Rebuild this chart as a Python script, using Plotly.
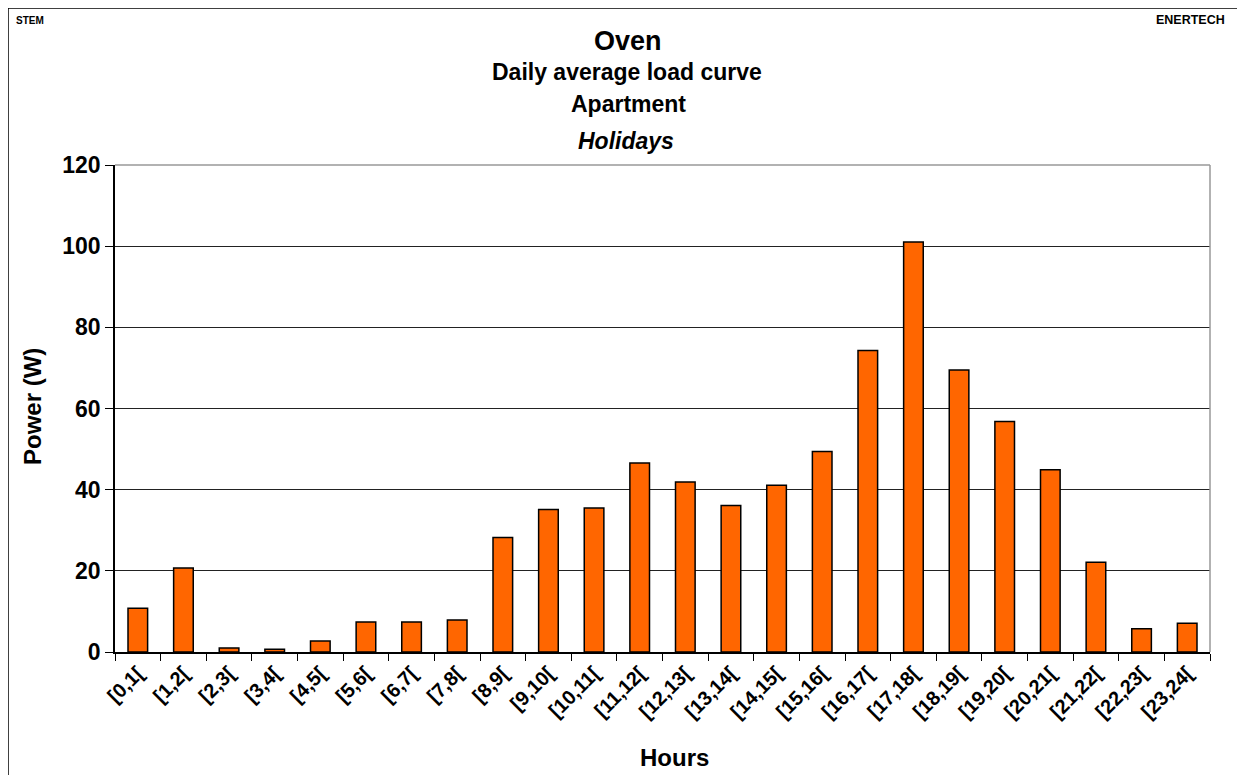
import plotly.graph_objects as go

hours = ["[0,1[", "[1,2[", "[2,3[", "[3,4[", "[4,5[", "[5,6[", "[6,7[", "[7,8[",
         "[8,9[", "[9,10[", "[10,11[", "[11,12[", "[12,13[", "[13,14[", "[14,15[",
         "[15,16[", "[16,17[", "[17,18[", "[18,19[", "[19,20[", "[20,21[", "[21,22[",
         "[22,23[", "[23,24["]
power = [10.8, 20.7, 1.0, 0.7, 2.7, 7.4, 7.4, 7.9,
         28.2, 35.1, 35.5, 46.6, 41.9, 36.1, 41.1,
         49.4, 74.3, 101.0, 69.5, 56.8, 44.9, 22.1, 5.7, 7.1]
y_ticks = [0, 20, 40, 60, 80, 100, 120]

FONT = "Liberation Sans, Arial, sans-serif"
OFF = 8  # page body margin offset
W, H = 1245, 775
L, T = 115 - OFF, 165 - OFF
R = W - (1210 - OFF)
B = H - (652 - OFF)
pw, ph = W - L - R, H - T - B


def px(x):
    return (x - OFF - L) / pw


def py(y):
    return (H - B - (y - OFF)) / ph


fig = go.Figure(go.Bar(
    x=hours, y=power,
    marker=dict(color="#FF6600", line=dict(color="#000000", width=1.5)),
))

fig.update_layout(
    width=W, height=H,
    margin=dict(l=L, r=R, t=T, b=B),
    paper_bgcolor="white", plot_bgcolor="white",
    bargap=0.57,
    showlegend=False,
    font=dict(family=FONT, color="black"),
)
fig.update_xaxes(
    type="category", tickangle=-45,
    tickfont=dict(family=FONT, size=20, color="black", weight="bold"),
    showline=True, linecolor="#000000", linewidth=1.5,
    ticks="outside", ticklen=7, tickcolor="#000000", tickson="boundaries",
    showgrid=False,
)
fig.update_yaxes(
    range=[0, 120], tickvals=y_ticks,
    tickfont=dict(family=FONT, size=23, color="black", weight="bold"),
    showline=True, linecolor="#000000", linewidth=1.5,
    ticks="outside", ticklen=8, tickcolor="#000000",
    showgrid=True, gridcolor="#222222", gridwidth=1,
    zeroline=False,
)

shapes = [
    dict(type="line", xref="paper", yref="paper", x0=0, x1=1, y0=1, y1=1,
         line=dict(color="#999999", width=1.5)),
    dict(type="line", xref="paper", yref="paper", x0=1, x1=1, y0=0, y1=1,
         line=dict(color="#999999", width=1.5)),
    dict(type="line", xref="paper", yref="paper", x0=px(8), x1=px(1270), y0=py(8), y1=py(8),
         line=dict(color="#000000", width=1.5)),
    dict(type="line", xref="paper", yref="paper", x0=px(8), x1=px(8), y0=py(8), y1=py(800),
         line=dict(color="#000000", width=1.5)),
]

annotations = [
    dict(text="<b>STEM</b>", x=px(14), y=py(20), xanchor="left", yanchor="middle",
         font=dict(size=10)),
    dict(text="<b>ENERTECH</b>", x=px(1227), y=py(20), xanchor="right", yanchor="middle",
         font=dict(size=12.5)),
    dict(text="<b>Oven</b>", x=px(628), y=py(41), xanchor="center", yanchor="middle",
         font=dict(size=27)),
    dict(text="<b>Daily average load curve</b>", x=px(627), y=py(72), xanchor="center",
         yanchor="middle", font=dict(size=23)),
    dict(text="<b>Apartment</b>", x=px(628), y=py(104), xanchor="center", yanchor="middle",
         font=dict(size=23)),
    dict(text="<b><i>Holidays</i></b>", x=px(626), y=py(141), xanchor="center",
         yanchor="middle", font=dict(size=23)),
    dict(text="<b>Hours</b>", x=px(674), y=py(757), xanchor="center", yanchor="middle",
         font=dict(size=24)),
    dict(text="<b>Power (W)</b>", x=px(32), y=py(407), xanchor="center", yanchor="middle",
         textangle=-90, font=dict(size=24)),
]
for a in annotations:
    a.update(xref="paper", yref="paper", showarrow=False)
    a["font"].update(family=FONT, color="black")

fig.update_layout(shapes=shapes, annotations=annotations)
fig.write_html("out.html")
